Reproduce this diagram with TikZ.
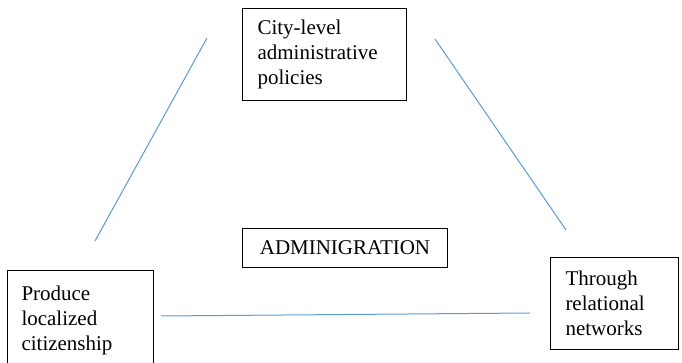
\documentclass[tikz,border=0pt]{standalone}
\usepackage{fontspec}
\setmainfont{Liberation Serif}
\definecolor{linkblue}{HTML}{5B9BD5}
\begin{document}
\begin{tikzpicture}[x=0.75pt,y=-0.75pt,
  box/.style={draw=black, line width=0.75pt, rectangle, anchor=north west,
    align=left, inner ysep=0pt,
    font=\fontsize{15.75}{18.75}\selectfont},
  link/.style={draw=linkblue, line width=0.75pt}]
\useasboundingbox (0,0) rectangle (682,363);
\node[box, minimum width=123pt, minimum height=69pt, inner xsep=11.25pt, text width=100.5pt] (city) at (242,8)
  {City-level\\administrative\\policies};
\node[box, minimum width=109.5pt, minimum height=74.25pt, inner xsep=10.5pt, text width=88.5pt] (produce) at (7,270)
  {Produce\\localized\\citizenship};
\node[box, minimum width=96pt, minimum height=69pt, inner xsep=11.25pt, text width=73.5pt] (through) at (550,257)
  {Through\\relational\\networks};
\node[box, align=center, minimum width=153.75pt, minimum height=29.25pt, inner xsep=0pt] (admin) at (242,228)
  {ADMINIGRATION};
\coordinate (l1) at (207,38);
\coordinate (l2) at (95,241);
\coordinate (r1) at (435,39);
\coordinate (r2) at (566,230);
\coordinate (b1) at (161,316);
\coordinate (b2) at (530,313);
\draw[link] (l1) -- (l2);
\draw[link] (r1) -- (r2);
\draw[link] (b1) -- (b2);
\end{tikzpicture}
\end{document}
